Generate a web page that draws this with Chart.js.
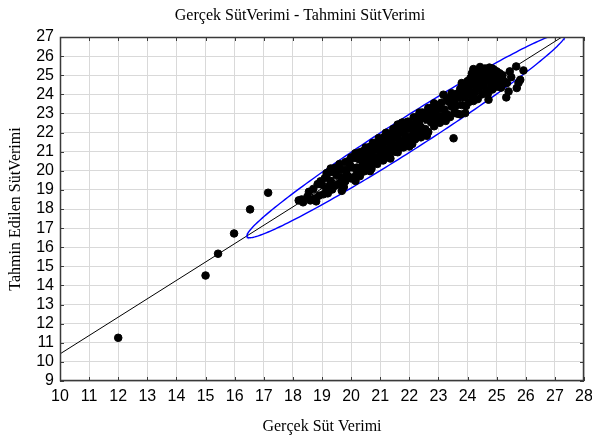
<!DOCTYPE html>
<html>
<head>
<meta charset="utf-8">
<script src="https://cdn.jsdelivr.net/npm/chart.js@4.4.1/dist/chart.umd.min.js"></script>
<style>
html, body { margin: 0; padding: 0; background: #fff; }
#wrap { width: 592px; height: 439px; position: relative; }
</style>
</head>
<body>
<div id="wrap"><canvas id="myChart"></canvas></div>
<script>
var chartTitle = 'Gerçek SütVerimi - Tahmini SütVerimi';
var xTitle = 'Gerçek Süt Verimi';
var yTitle = 'Tahmin Edilen SütVerimi';

var xTicks = [10, 11, 12, 13, 14, 15, 16, 17, 18, 19, 20, 21, 22, 23, 24, 25, 26, 27, 28];
var yTicks = [9, 10, 11, 12, 13, 14, 15, 16, 17, 18, 19, 20, 21, 22, 23, 24, 25, 26, 27];

// Gerçek (x) and tahmin (y) values
var gercek = [
    12.0, 15.0, 15.43, 15.98, 16.53, 17.15,
    18.2, 18.3, 18.35, 18.5, 18.55, 18.6, 18.7, 18.75, 18.85, 18.9, 18.95, 18.8,
    19.0, 19.05, 19.16, 19.1, 19.15, 19.2, 19.25, 19.3, 19.3, 19.35, 19.4, 19.45, 19.45, 19.5, 19.2,
    19.55, 19.6, 19.6, 19.65, 19.7, 19.7, 19.75, 19.8, 19.8, 19.85, 19.9, 19.9, 19.95, 20.0, 20.0, 19.68, 19.75, 19.85,
    20.05, 20.1, 20.1, 20.15, 20.2, 20.2, 20.25, 20.3, 20.3, 20.35, 20.35, 20.4, 20.4, 20.45, 20.45, 20.5, 20.5, 20.15, 20.25, 20.4,
    20.55, 20.65, 20.6, 20.65, 20.65, 20.7, 20.7, 20.75, 20.75, 20.8, 20.8, 20.85, 20.85, 20.9, 20.9, 20.95, 20.95, 21.0, 21.0, 20.55, 20.7, 20.9,
    21.05, 21.05, 21.1, 21.1, 21.15, 21.15, 21.2, 21.2, 21.25, 21.25, 21.3, 21.3, 21.35, 21.35, 21.4, 21.4, 21.45, 21.45, 21.5, 21.5, 21.2, 21.35,
    21.55, 21.55, 21.6, 21.6, 21.65, 21.65, 21.7, 21.7, 21.75, 21.75, 21.8, 21.8, 21.85, 21.85, 21.9, 21.9, 21.95, 21.95, 22.0, 22.0, 21.6, 21.8,
    22.05, 22.05, 22.1, 22.1, 22.15, 22.15, 22.2, 22.2, 22.25, 22.25, 22.3, 22.3, 22.35, 22.35, 22.4, 22.4, 22.45, 22.45, 22.5, 22.5,
    22.55, 22.55, 22.6, 22.65, 22.65, 22.7, 22.75, 22.75, 22.8, 22.85, 22.85, 22.9, 22.95, 22.95, 23.0, 22.6,
    23.05, 23.05, 23.1, 23.15, 23.17, 23.2, 23.25, 23.3, 23.3, 23.35, 23.4, 23.45, 23.45, 23.52, 23.5,
    23.55, 23.55, 23.6, 23.65, 23.65, 23.7, 23.75, 23.75, 23.8, 23.85, 23.85, 23.9, 23.92, 23.95, 23.95, 24.0, 24.0, 23.8,
    24.05, 24.05, 24.1, 24.1, 24.15, 24.15, 24.2, 24.2, 24.25, 24.25, 24.3, 24.3, 24.35, 24.35, 24.4, 24.4, 24.43, 24.45, 24.5, 24.5, 24.5, 24.2,
    24.55, 24.55, 24.6, 24.6, 24.65, 24.65, 24.7, 24.72, 24.75, 24.75, 24.8, 24.8, 24.85, 24.9, 24.9, 24.95, 25.0, 25.0, 24.85, 24.7,
    25.05, 25.1, 25.15, 25.18, 25.2, 25.25, 25.33, 25.35, 25.41, 25.45, 25.5, 25.67, 25.69, 25.81, 25.92, 25.75
];
var tahmin = [
    11.26, 14.52, 15.66, 16.72, 17.98, 18.85,
    18.45, 18.5, 18.35, 18.65, 18.9, 18.45, 19.05, 18.55, 19.3, 18.7, 19.45, 18.4,
    19.27, 18.77, 19.88, 19.62, 19.02, 19.87, 19.22, 20.12, 19.47, 19.02, 19.92, 19.22, 20.15, 19.77, 18.82,
    19.3, 20.05, 20.35, 19.65, 19.2, 20.05, 19.6, 20.45, 19.45, 20.05, 20.5, 19.7, 20.35, 19.6, 20.7, 18.95, 19.15, 19.8,
    20.17, 19.67, 20.67, 20.92, 20.17, 19.92, 20.62, 19.72, 20.97, 20.02, 20.57, 20.32, 21.02, 19.97, 20.87, 20.57, 21.22, 19.47, 20.07, 20.72,
    20.26, 19.98, 20.91, 21.26, 20.56, 20.26, 21.16, 21.46, 20.76, 20.46, 21.11, 21.41, 20.71, 20.36, 21.11, 21.36, 21.71, 20.76, 21.11, 21.06, 20.11, 20.51,
    20.84, 21.49, 21.19, 20.54, 21.79, 21.09, 21.49, 20.79, 21.94, 21.09, 21.69, 20.69, 21.89, 21.34, 21.64, 21.04, 22.19, 21.34, 21.94, 20.99, 21.99, 20.64,
    21.22, 22.02, 21.72, 20.97, 22.32, 21.52, 22.02, 21.22, 22.52, 21.52, 22.22, 21.22, 22.42, 21.82, 22.17, 21.47, 22.57, 21.77, 22.37, 21.27, 22.42, 22.52,
    22.45, 21.6, 22.15, 21.4, 22.8, 21.95, 22.45, 21.65, 22.8, 22.15, 22.65, 21.9, 23.05, 22.4, 22.85, 21.75, 23.05, 22.2, 22.75, 22.0,
    22.98, 22.18, 22.68, 23.28, 22.03, 22.98, 22.53, 23.28, 22.83, 22.33, 23.53, 23.13, 22.63, 23.43, 22.88, 21.83,
    23.26, 22.51, 23.56, 22.86, 23.98, 23.21, 22.61, 23.81, 22.96, 23.61, 22.81, 24.06, 23.36, 21.7, 23.76,
    23.64, 23.04, 23.39, 24.04, 22.99, 23.84, 24.29, 22.95, 23.44, 24.09, 24.49, 23.84, 23.02, 24.39, 23.39, 24.04, 24.69, 24.59,
    24.2, 23.6, 24.85, 24.45, 25.1, 23.9, 25.32, 24.65, 24.1, 25.0, 24.4, 25.25, 23.75, 24.8, 25.05, 24.3, 25.43, 24.6, 25.3, 24.0, 24.85, 23.65,
    25.15, 24.45, 25.35, 24.7, 24.2, 25.0, 25.25, 23.72, 24.8, 25.4, 24.5, 25.1, 24.25, 25.3, 24.7, 24.95, 25.2, 24.4, 25.35, 24.05,
    24.75, 25.1, 24.35, 24.5, 25.0, 24.7, 23.84, 24.59, 24.15, 25.2, 24.9, 25.46, 24.33, 24.76, 25.25, 24.6
];

// fitted line and confidence ellipse
var lineIntercept = 0.80;
var lineSlope = 0.9617;
var ellCenterX = 21.9;
var ellHalfX = 5.48;
var ellHalfY = 1.0;

var points = gercek.map(function(v, i){ return {x: v, y: tahmin[i]}; });

var fitLine = [
    {x: xTicks[0], y: lineIntercept + lineSlope * xTicks[0]},
    {x: xTicks[xTicks.length - 1], y: lineIntercept + lineSlope * xTicks[xTicks.length - 1]}
];

var ellipse = [];
for (var k = 0; k <= 240; k++) {
    var t = k / 240 * 2 * Math.PI;
    var ex = ellCenterX + ellHalfX * Math.cos(t);
    ellipse.push({x: ex, y: lineIntercept + lineSlope * ex + ellHalfY * Math.sin(t)});
}

var serif = 'Liberation Serif';

// frame, short inward ticks and the three titles
var framePlugin = {
    id: 'frame',
    afterDatasetsDraw: function(chart){
        var a = chart.chartArea, c = chart.ctx;
        var sx = chart.scales.x, sy = chart.scales.y;
        c.save();
        c.strokeStyle = '#3a3a3a';
        c.lineWidth = 1;
        c.beginPath();
        xTicks.forEach(function(v){
            var p = Math.round(sx.getPixelForValue(v)) + 0.5;
            c.moveTo(p, a.bottom); c.lineTo(p, a.bottom - 4);
            c.moveTo(p, a.top); c.lineTo(p, a.top + 4);
        });
        yTicks.forEach(function(v){
            var p = Math.round(sy.getPixelForValue(v)) + 0.5;
            c.moveTo(a.left, p); c.lineTo(a.left + 4, p);
            c.moveTo(a.right, p); c.lineTo(a.right - 4, p);
        });
        c.stroke();
        c.lineWidth = 1.5;
        c.strokeRect(Math.round(a.left) + 0.5, Math.round(a.top) + 0.5, Math.round(a.width) - 1, Math.round(a.height) - 1);

        c.fillStyle = '#000';
        c.textAlign = 'center';
        c.textBaseline = 'middle';
        c.font = '16px "' + serif + '"';
        c.fillText(chartTitle, chart.width / 2 + 4, 16);
        c.fillText(xTitle, (a.left + a.right) / 2, 427);
        c.translate(16, (a.top + a.bottom) / 2);
        c.rotate(-Math.PI / 2);
        c.fillText(yTitle, 0, 0);
        c.restore();
    }
};

window.onload = function(){
    var ctx = document.getElementById('myChart').getContext('2d');
    window.myChart = new Chart(ctx, {
        type: 'scatter',
        data: {
            datasets: [{
                label: 'points',
                data: points,
                backgroundColor: '#000',
                borderColor: '#000',
                pointRadius: 3.8,
                pointHoverRadius: 3.8,
                order: 0
            }, {
                type: 'line',
                label: 'fit',
                data: fitLine,
                borderColor: '#000',
                borderWidth: 1,
                pointRadius: 0,
                fill: false,
                order: 2
            }, {
                type: 'line',
                label: 'ellipse',
                data: ellipse,
                borderColor: '#0000ff',
                borderWidth: 1.4,
                pointRadius: 0,
                tension: 0,
                fill: false,
                order: 1
            }]
        },
        options: {
            responsive: true,
            maintainAspectRatio: false,
            animation: false,
            layout: { padding: { top: 37, right: 8, bottom: 0, left: 0 } },
            plugins: {
                legend: { display: false },
                tooltip: { enabled: false },
                title: { display: false }
            },
            scales: {
                x: {
                    type: 'linear',
                    min: 10,
                    max: 28,
                    afterBuildTicks: function(s){ s.ticks = xTicks.map(function(v){ return {value: v}; }); },
                    afterFit: function(s){ s.height = 58; s.paddingRight = 0; s.paddingLeft = 0; },
                    grid: { color: '#d9d9d9', drawTicks: false },
                    border: { display: false },
                    ticks: { color: '#000', padding: 6, autoSkip: false, maxRotation: 0,
                             font: { family: 'Liberation Sans', size: 16 } }
                },
                y: {
                    type: 'linear',
                    min: 9,
                    max: 27,
                    afterBuildTicks: function(s){ s.ticks = yTicks.map(function(v){ return {value: v}; }); },
                    afterFit: function(s){ s.width = 60; s.paddingTop = 0; s.paddingBottom = 0; },
                    grid: { color: '#d9d9d9', drawTicks: false },
                    border: { display: false },
                    ticks: { color: '#000', padding: 6, autoSkip: false,
                             font: { family: 'Liberation Sans', size: 16 } }
                }
            }
        },
        plugins: [framePlugin]
    });
};
</script>
</body>
</html>
